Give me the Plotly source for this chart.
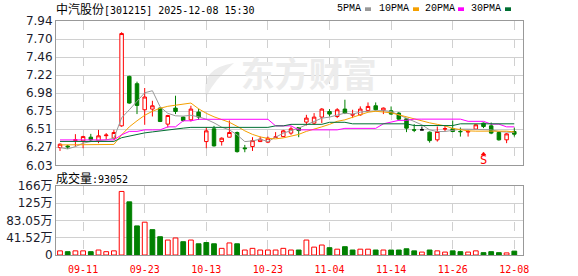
import plotly.graph_objects as go

# ---------------- data ----------------
dates = ["2025-09-08", "2025-09-09", "2025-09-10", "2025-09-11", "2025-09-12", "2025-09-15",
         "2025-09-16", "2025-09-17", "2025-09-18", "2025-09-19", "2025-09-22", "2025-09-23",
         "2025-09-24", "2025-09-25", "2025-09-26", "2025-09-29", "2025-09-30", "2025-10-09",
         "2025-10-10", "2025-10-13", "2025-10-14", "2025-10-15", "2025-10-16", "2025-10-17",
         "2025-10-20", "2025-10-21", "2025-10-22", "2025-10-23", "2025-10-24", "2025-10-27",
         "2025-10-28", "2025-10-29", "2025-10-30", "2025-10-31", "2025-11-03", "2025-11-04",
         "2025-11-05", "2025-11-06", "2025-11-07", "2025-11-10", "2025-11-11", "2025-11-12",
         "2025-11-13", "2025-11-14", "2025-11-17", "2025-11-18", "2025-11-19", "2025-11-20",
         "2025-11-21", "2025-11-24", "2025-11-25", "2025-11-26", "2025-11-27", "2025-11-28",
         "2025-12-01", "2025-12-02", "2025-12-03", "2025-12-04", "2025-12-05", "2025-12-08"]

opens = [6.264, 6.285, 6.360, 6.353, 6.402, 6.357, 6.422, 6.389, 6.552, 7.207,
         7.110, 6.765, 6.774, 6.787, 6.575, 6.787, 6.668, 6.632, 6.734, 6.344,
         6.513, 6.344, 6.402, 6.464, 6.260, 6.278, 6.344, 6.336, 6.400, 6.410,
         6.456, 6.530, 6.602, 6.588, 6.668, 6.742, 6.676, 6.774, 6.695, 6.698,
         6.756, 6.818, 6.756, 6.752, 6.721, 6.645, 6.500, 6.499, 6.469, 6.367,
         6.510, 6.513, 6.480, 6.470, 6.509, 6.588, 6.552, 6.464, 6.367, 6.477]
highs = [6.320, 6.300, 6.442, 6.420, 6.446, 6.499, 6.456, 6.499, 7.791, 7.216,
         7.137, 7.053, 6.884, 6.800, 6.698, 6.951, 6.676, 6.818, 6.778, 6.535,
         6.552, 6.400, 6.623, 6.477, 6.300, 6.402, 6.410, 6.410, 6.469, 6.499,
         6.543, 6.530, 6.698, 6.721, 6.787, 6.774, 6.787, 6.898, 6.765, 6.810,
         6.862, 6.862, 6.795, 6.809, 6.734, 6.655, 6.575, 6.543, 6.477, 6.543,
         6.552, 6.623, 6.530, 6.499, 6.575, 6.596, 6.596, 6.477, 6.456, 6.530]
lows = [6.220, 6.247, 6.278, 6.256, 6.344, 6.323, 6.367, 6.367, 6.540, 6.845,
        6.708, 6.566, 6.676, 6.602, 6.530, 6.708, 6.610, 6.610, 6.632, 6.256,
        6.278, 6.291, 6.400, 6.198, 6.203, 6.220, 6.340, 6.323, 6.400, 6.402,
        6.433, 6.402, 6.557, 6.566, 6.588, 6.676, 6.655, 6.708, 6.655, 6.686,
        6.742, 6.756, 6.708, 6.698, 6.623, 6.469, 6.469, 6.499, 6.330, 6.344,
        6.477, 6.469, 6.410, 6.410, 6.499, 6.522, 6.442, 6.357, 6.323, 6.410]
closes = [6.309, 6.275, 6.367, 6.410, 6.367, 6.420, 6.430, 6.464, 7.774, 6.854,
          6.822, 6.934, 6.818, 6.610, 6.689, 6.742, 6.623, 6.774, 6.668, 6.486,
          6.287, 6.389, 6.464, 6.211, 6.250, 6.357, 6.376, 6.389, 6.405, 6.486,
          6.513, 6.490, 6.655, 6.668, 6.774, 6.708, 6.765, 6.721, 6.700, 6.774,
          6.809, 6.765, 6.787, 6.708, 6.641, 6.522, 6.495, 6.499, 6.357, 6.477,
          6.515, 6.477, 6.475, 6.478, 6.566, 6.543, 6.456, 6.367, 6.446, 6.442]

# volume in 万
volumes = [10, 8, 10, 10, 8, 12, 8, 10, 153, 128,
           70, 79, 61, 44, 36, 41, 32, 36, 27, 30,
           27, 16, 29, 27, 12, 16, 12, 12, 12, 16,
           12, 12, 36, 19, 24, 17.6, 14, 20, 12, 14,
           14, 12, 12, 12, 12, 15, 10, 7, 12, 10,
           7, 10, 8, 7, 10, 5.6, 8, 5.6, 5, 9.3052]

ma5 = [6.264, 6.247, 6.277, 6.323, 6.344, 6.353, 6.366, 6.389, 6.658, 6.765,
       6.878, 6.990, 7.017, 6.805, 6.718, 6.685, 6.681, 6.692, 6.672, 6.639,
       6.592, 6.535, 6.499, 6.433, 6.344, 6.353, 6.376, 6.344, 6.402, 6.455,
       6.490, 6.522, 6.566, 6.609, 6.654, 6.668, 6.698, 6.721, 6.708, 6.734,
       6.745, 6.755, 6.755, 6.742, 6.698, 6.654, 6.609, 6.566, 6.499, 6.477,
       6.477, 6.490, 6.508, 6.508, 6.508, 6.508, 6.499, 6.477, 6.469, 6.463]
ma10 = [6.300, 6.300, 6.300, 6.300, 6.300, 6.300, 6.306, 6.306, 6.433, 6.539,
        6.619, 6.692, 6.745, 6.785, 6.811, 6.827, 6.844, 6.854, 6.778, 6.718,
        6.672, 6.639, 6.599, 6.546, 6.486, 6.439, 6.406, 6.386, 6.380, 6.393,
        6.419, 6.439, 6.479, 6.506, 6.539, 6.572, 6.612, 6.632, 6.665, 6.705,
        6.732, 6.745, 6.738, 6.725, 6.698, 6.672, 6.639, 6.612, 6.592, 6.572,
        6.552, 6.519, 6.499, 6.486, 6.482, 6.482, 6.482, 6.482, 6.482, 6.472]
ma20 = [6.366, 6.366, 6.366, 6.366, 6.366, 6.366, 6.366, 6.366, 6.433, 6.479,
        6.479, 6.499, 6.499, 6.499, 6.539, 6.539, 6.619, 6.619, 6.639, 6.639,
        6.639, 6.639, 6.639, 6.639, 6.639, 6.639, 6.639, 6.639, 6.552, 6.552,
        6.552, 6.499, 6.499, 6.499, 6.499, 6.499, 6.499, 6.519, 6.519, 6.519,
        6.519, 6.519, 6.579, 6.605, 6.625, 6.625, 6.641, 6.641, 6.641, 6.641,
        6.641, 6.641, 6.641, 6.612, 6.612, 6.612, 6.575, 6.575, 6.539, 6.539]
ma30 = [6.346, 6.346, 6.346, 6.346, 6.346, 6.346, 6.346, 6.346, 6.395, 6.419,
        6.439, 6.459, 6.472, 6.486, 6.499, 6.512, 6.522, 6.532, 6.532, 6.532,
        6.532, 6.532, 6.532, 6.532, 6.532, 6.532, 6.532, 6.532, 6.552, 6.552,
        6.572, 6.572, 6.572, 6.572, 6.572, 6.599, 6.599, 6.599, 6.579, 6.579,
        6.579, 6.579, 6.579, 6.579, 6.579, 6.579, 6.556, 6.556, 6.556, 6.556,
        6.556, 6.556, 6.579, 6.579, 6.579, 6.579, 6.579, 6.579, 6.579, 6.579]

price_min, price_max = 6.03, 7.94
price_tick_labels = ["6.03", "6.27", "6.51", "6.75", "6.98", "7.22", "7.46", "7.70", "7.94"]
vol_max = 166.1
vol_tick_labels = ["0", "41.52万", "83.05万", "125万", "166万"]
date_tick_labels = ["09-11", "09-23", "10-13", "10-23", "11-04", "11-14", "11-26", "12-08"]

title_name = "中汽股份"
title_rest = "[301215] 2025-12-08 15:30"
vol_title = "成交量"
vol_last = ":93052"
ma_names = ["5PMA", "10PMA", "20PMA", "30PMA"]
watermark = "东方财富"
event_label = "S"
event_index = 55

# ---------------- style ----------------
RED = "#ff0000"
GREEN = "#008000"
GRID = "#d0d0d0"
FRAME = "#999999"
MA_COLORS = ["#999999", "#f5a000", "#ff00ff", "#006f32"]
W, H = 578, 276
ML, MR, MT, MB = 56, 55, 21, 21
PW, PH = W - ML - MR, H - MT - MB
CJK = "Noto Sans CJK SC"
MONO = "DejaVu Sans Mono"


def px_x(p):
    return (p - ML) / PW


def px_y(p):
    return (H - MB - p) / PH


x = list(range(len(dates)))
up = [i for i in x if closes[i] > opens[i]]
dn = [i for i in x if closes[i] < opens[i]]
flat = [i for i in x if closes[i] == opens[i]]


def candles(idx, line_color, fill_color):
    return go.Candlestick(
        x=idx,
        open=[opens[i] for i in idx], high=[highs[i] for i in idx],
        low=[lows[i] for i in idx], close=[closes[i] for i in idx],
        increasing=dict(line=dict(color=line_color, width=1), fillcolor=fill_color),
        decreasing=dict(line=dict(color=line_color, width=1), fillcolor=fill_color),
        whiskerwidth=0, xaxis="x2", yaxis="y", showlegend=False, hoverinfo="skip")


fig = go.Figure()

# watermark (behind the candles)
fig.add_trace(go.Scatter(
    x=[32.3], y=[7.175], mode="text", text=[watermark],
    textfont=dict(size=34, color="#ececec", family=CJK, weight="bold"),
    xaxis="x2", yaxis="y", showlegend=False, hoverinfo="skip"))

fig.add_trace(candles(up, RED, "#ffffff"))
fig.add_trace(candles(dn, GREEN, GREEN))
if flat:
    fig.add_trace(candles(flat, "#000000", "#000000"))

for vals, col in zip([ma5, ma10, ma20, ma30], MA_COLORS):
    fig.add_trace(go.Scatter(x=x, y=vals, mode="lines", line=dict(color=col, width=1),
                             xaxis="x2", yaxis="y", showlegend=False, hoverinfo="skip"))

vol_up = [(closes[i] >= (closes[i - 1] if i > 0 else opens[i])) for i in x]
fig.add_trace(go.Bar(
    x=x, y=volumes, width=0.62,
    marker=dict(color=["#ffffff" if u else GREEN for u in vol_up],
                line=dict(color=[RED if u else GREEN for u in vol_up], width=1)),
    xaxis="x", yaxis="y2", showlegend=False, hoverinfo="skip"))

tick_idx = [dates.index("2025-" + t) for t in date_tick_labels]
xr = [-0.52, len(dates) - 1 + 1.13]
price_step = (price_max - price_min) / (len(price_tick_labels) - 1)
price_ticks = [price_min + k * price_step for k in range(len(price_tick_labels))]
vol_ticks = [k * vol_max / (len(vol_tick_labels) - 1) for k in range(len(vol_tick_labels))]

common_x = dict(range=xr, tickmode="array", tickvals=tick_idx, showgrid=True,
                gridcolor=GRID, griddash="dash", gridwidth=1, zeroline=False,
                showline=True, linecolor=FRAME, linewidth=1, mirror=True,
                ticks="", rangeslider=dict(visible=False), automargin=False)

price_bottom = 165.3
vol_top = 186.0

fig.update_layout(
    width=W, height=H, margin=dict(l=ML, r=MR, t=MT, b=MB, pad=0, autoexpand=False),
    paper_bgcolor="#ffffff", plot_bgcolor="#ffffff",
    boxgap=0.35, bargap=0.35,
    xaxis=dict(**common_x, domain=[0, 1], anchor="y2", ticktext=date_tick_labels,
               ticklabelstandoff=5,
               tickfont=dict(family=MONO, size=10, color=RED)),
    xaxis2=dict(**common_x, domain=[0, 1], anchor="y", matches="x", showticklabels=False),
    yaxis=dict(domain=[px_y(price_bottom), 1], anchor="x2", range=[price_min, price_max],
               tickmode="array", tickvals=price_ticks, ticktext=price_tick_labels,
               showgrid=True, gridcolor=GRID, gridwidth=1, zeroline=False,
               showline=True, linecolor=FRAME, linewidth=1, mirror=True, ticks="",
               automargin=False,
               tickfont=dict(family="DejaVu Sans", size=12, color="#1c1c2c")),
    yaxis2=dict(domain=[0, px_y(vol_top)], anchor="x", range=[0, vol_max],
                tickmode="array", tickvals=vol_ticks, ticktext=vol_tick_labels,
                showgrid=True, gridcolor=GRID, gridwidth=1, zeroline=False,
                showline=True, linecolor=FRAME, linewidth=1, mirror=True, ticks="",
                automargin=False,
                tickfont=dict(family="DejaVu Sans, " + CJK, size=12, color="#1c1c2c")),
)

ann = []
ann.append(dict(xref="paper", yref="paper", x=px_x(54), y=px_y(8.5), xanchor="left",
                yanchor="middle", showarrow=False,
                text=title_name + '<span style="font-family:DejaVu Sans Mono;font-size:10px">'
                     + title_rest + '</span>',
                font=dict(family=CJK, size=12, color="#000000")))
ann.append(dict(xref="paper", yref="paper", x=px_x(54), y=px_y(177), xanchor="left",
                yanchor="middle", showarrow=False,
                text=vol_title + '<span style="font-family:DejaVu Sans Mono;font-size:10px">'
                     + vol_last + '</span>',
                font=dict(family=CJK, size=12, color="#000000")))

legend_text_x = [335, 377, 423, 469]
legend_sw_x = [365, 413, 458, 505]
shapes = []
for name, tx, sx, col in zip(ma_names, legend_text_x, legend_sw_x, MA_COLORS):
    ann.append(dict(xref="paper", yref="paper", x=px_x(tx), y=px_y(9), xanchor="left",
                    yanchor="middle", showarrow=False, text=name,
                    font=dict(family="Liberation Mono", size=10, color="#000000")))
    shapes.append(dict(type="rect", xref="paper", yref="paper",
                       x0=px_x(sx), x1=px_x(sx + 6), y0=px_y(11), y1=px_y(7.3),
                       fillcolor=col, line=dict(width=0)))

# watermark logo swoosh (decoration, below data)
logo = [(234, 63), (200, 68), (206, 97), (214, 80), (234, 63)]
path = "M {:.4f},{:.4f} Q {:.4f},{:.4f} {:.4f},{:.4f} Q {:.4f},{:.4f} {:.4f},{:.4f} Z".format(
    px_x(logo[0][0]), px_y(logo[0][1]), px_x(logo[1][0]), px_y(logo[1][1]),
    px_x(logo[2][0]), px_y(logo[2][1]), px_x(logo[3][0]), px_y(logo[3][1]),
    px_x(logo[4][0]), px_y(logo[4][1]))
shapes.append(dict(type="path", xref="paper", yref="paper", path=path,
                   fillcolor="#ececec", line=dict(width=0), layer="below"))

# event marker: small triangle + "S"
shapes.append(dict(type="path", xref="x2", yref="y",
                   path="M {0},{1} L {2},{1} L {3},{4} Z".format(
                       event_index - 0.32, price_min + 0.135, event_index + 0.32,
                       event_index, price_min + 0.175),
                   fillcolor=RED, line=dict(color=RED, width=0.5)))
ann.append(dict(x=event_index, y=price_min + 0.068, xref="x2", yref="y",
                text=event_label, showarrow=False, yanchor="middle",
                font=dict(family=MONO, size=12, color=RED)))

fig.update_layout(annotations=ann, shapes=shapes)

fig.write_html("out.html")
